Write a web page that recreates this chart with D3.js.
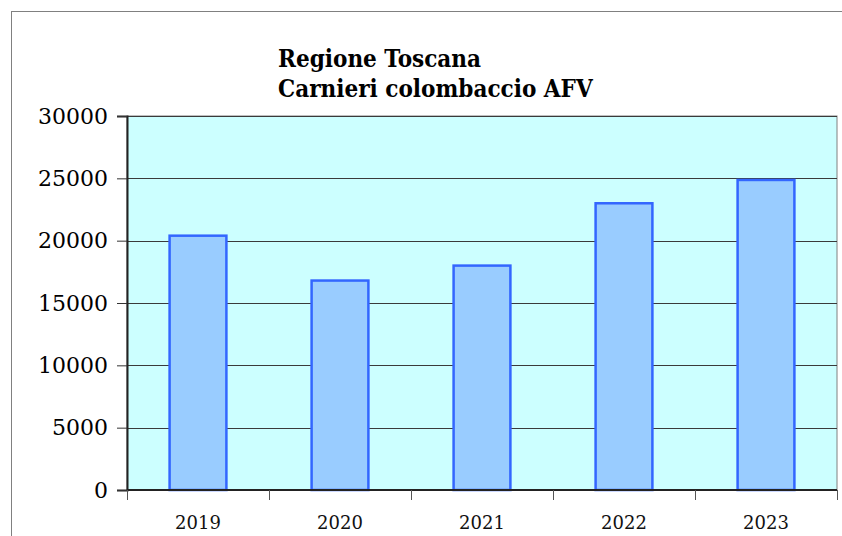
<!DOCTYPE html>
<html>
<head>
<meta charset="utf-8">
<script src="https://cdn.jsdelivr.net/npm/d3@7"></script>
<style>
  body { margin: 0; background: #fff; }
  svg { display: block; }
</style>
</head>
<body>
<svg id="chart" width="842" height="536"></svg>
<script>
// data
const years = ["2019", "2020", "2021", "2022", "2023"];
const carnieri = [20400, 16800, 18000, 23000, 24870];
const yTicks = [0, 5000, 10000, 15000, 20000, 25000, 30000];
const titleLines = ["Regione Toscana", "Carnieri colombaccio AFV"];

const W = 842, H = 536;
const margin = { top: 116, right: 5, bottom: 46, left: 127 };
const plotW = W - margin.left - margin.right;
const plotH = H - margin.top - margin.bottom;

const svg = d3.select("#chart");

// outer chart border (right/bottom sides fall outside the view)
svg.append("rect")
  .attr("x", 11.5).attr("y", 11.5)
  .attr("width", W).attr("height", H)
  .attr("fill", "#fff")
  .attr("stroke", "#808080")
  .attr("stroke-width", 1);

const g = svg.append("g")
  .attr("transform", `translate(${margin.left},${margin.top})`);

const x = d3.scaleBand()
  .domain(years)
  .range([0, plotW])
  .paddingInner(0.6)
  .paddingOuter(0.3);

const y = d3.scaleLinear()
  .domain([0, 30000])
  .range([plotH, 0]);

// plot area
g.append("rect")
  .attr("width", plotW).attr("height", plotH)
  .attr("fill", "#ccffff")
  .attr("stroke", "#808080")
  .attr("stroke-width", 1);

// gridlines
g.append("g")
  .selectAll("line")
  .data(yTicks.filter(d => d > 0))
  .join("line")
  .attr("x1", 0).attr("x2", plotW)
  .attr("y1", d => Math.round(y(d)) + 0.5)
  .attr("y2", d => Math.round(y(d)) + 0.5)
  .attr("stroke", "#3a3a3a")
  .attr("stroke-width", 1);

// bars
g.append("g")
  .selectAll("rect")
  .data(carnieri)
  .join("rect")
  .attr("x", (d, i) => x(years[i]))
  .attr("y", d => y(d))
  .attr("width", x.bandwidth())
  .attr("height", d => plotH - y(d))
  .attr("fill", "#99ccff")
  .attr("stroke", "#3366ff")
  .attr("stroke-width", 2.5);

// y axis
const yAxis = g.append("g")
  .call(d3.axisLeft(y).tickValues(yTicks).tickSize(10).tickPadding(9).tickFormat(d3.format("d")));
yAxis.select(".domain").attr("stroke", "#222").attr("stroke-width", 2);
yAxis.selectAll(".tick line").attr("stroke", "#333");
yAxis.selectAll("text")
  .attr("font-family", "'DejaVu Serif', serif")
  .attr("font-size", 22)
  .attr("fill", "#000");

// x axis: ticks on category boundaries
const xAxis = g.append("g")
  .attr("transform", `translate(0,${plotH})`);
xAxis.append("line")
  .attr("x1", 0).attr("x2", plotW)
  .attr("stroke", "#222").attr("stroke-width", 2);
xAxis.selectAll(".bound")
  .data(d3.range(years.length + 1))
  .join("line")
  .attr("class", "bound")
  .attr("x1", i => Math.round(i * plotW / years.length) + 0.5)
  .attr("x2", i => Math.round(i * plotW / years.length) + 0.5)
  .attr("y1", 0).attr("y2", 10)
  .attr("stroke", "#555");
xAxis.selectAll(".lbl")
  .data(years)
  .join("text")
  .attr("class", "lbl")
  .attr("x", d => x(d) + x.bandwidth() / 2)
  .attr("y", 39)
  .attr("text-anchor", "middle")
  .attr("font-family", "'DejaVu Serif', serif")
  .attr("font-size", 18)
  .attr("fill", "#111")
  .text(d => d);

// title
svg.append("g")
  .selectAll("text")
  .data(titleLines)
  .join("text")
  .attr("x", 278)
  .attr("y", (d, i) => 67 + i * 30)
  .attr("font-family", "'DejaVu Serif Condensed', 'DejaVu Serif', serif")
  .attr("font-weight", "bold")
  .attr("font-size", 24)
  .attr("fill", "#000")
  .text(d => d);
</script>
</body>
</html>
